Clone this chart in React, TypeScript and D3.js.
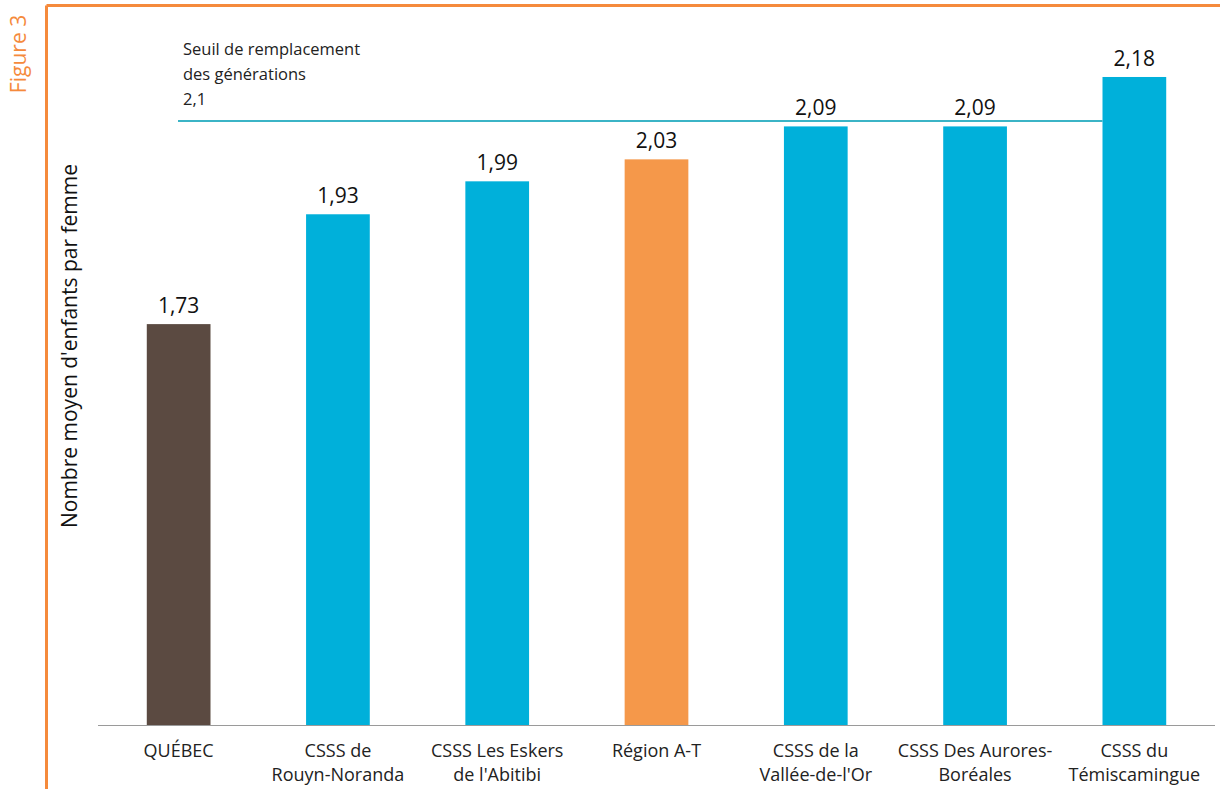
import React from "react";
import * as d3 from "d3";

const categories: string[][] = [
  ["QUÉBEC"],
  ["CSSS de", "Rouyn-Noranda"],
  ["CSSS Les Eskers", "de l'Abitibi"],
  ["Région A-T"],
  ["CSSS de la", "Vallée-de-l'Or"],
  ["CSSS Des Aurores-", "Boréales"],
  ["CSSS du", "Témiscamingue"],
];
const values: number[] = [1.73, 1.93, 1.99, 2.03, 2.09, 2.09, 2.18];
const barColors: string[] = ["#5b4a41", "#00b0da", "#00b0da", "#f5984a", "#00b0da", "#00b0da", "#00b0da"];
const threshold = 2.1;
const thresholdLabel: string[] = ["Seuil de remplacement", "des générations", "2,1"];
const yTitle = "Nombre moyen d'enfants par femme";
const figureLabel = "Figure 3";

const W = 1220;
const H = 789;
const FONT = "'Open Sans', sans-serif";

export default function App() {
  const x = d3
    .scaleBand<number>()
    .domain(d3.range(values.length))
    .range([99, 1214])
    .paddingInner(0.6)
    .paddingOuter(0.3);
  const y = d3.scaleLinear().domain([1.0, 2.2]).range([725, 66]);
  const fmt = (v: number) => d3.format(".2f")(v).replace(".", ",");
  const bw = x.bandwidth();
  const lastX = x(values.length - 1)!;

  return (
    <svg
      width={W}
      height={H}
      style={{ position: "absolute", left: 0, top: 0, background: "#fff" }}
      fontFamily={FONT}
    >
      <rect x={0} y={0} width={W} height={H} fill="#fff" />
      {/* orange frame */}
      <line x1={46.5} y1={5.5} x2={W} y2={5.5} stroke="#f58a3c" strokeWidth={3} />
      <line x1={46.5} y1={5.5} x2={46.5} y2={H} stroke="#f58a3c" strokeWidth={3} />
      <text
        transform={`translate(26, 54) rotate(-90)`}
        textAnchor="middle"
        fontSize={21}
        fill="#f58a3c"
      >
        {figureLabel}
      </text>

      {/* threshold line */}
      <line
        x1={178}
        x2={lastX}
        y1={y(threshold)}
        y2={y(threshold)}
        stroke="#3bb4c6"
        strokeWidth={2}
      />
      {thresholdLabel.map((t, i) => (
        <text key={i} x={183} y={55 + i * 25} fontSize={16.5} fill="#222">
          {t}
        </text>
      ))}

      {/* bars */}
      {values.map((v, i) => (
        <g key={i}>
          <rect x={x(i)!} y={y(v)} width={bw} height={y(1.0) - y(v)} fill={barColors[i]} />
          <text
            x={x(i)! + bw / 2}
            y={y(v) - 11}
            textAnchor="middle"
            fontSize={21}
            fill="#111"
          >
            {fmt(v)}
          </text>
        </g>
      ))}

      {/* axis line */}
      <line x1={98} x2={1215} y1={725.5} y2={725.5} stroke="#9a9a9a" strokeWidth={1} />

      {/* x labels */}
      {categories.map((lines, i) => (
        <text
          key={i}
          x={x(i)! + bw / 2}
          textAnchor="middle"
          fontSize={18}
          fill="#222"
        >
          {lines.map((l, j) => (
            <tspan key={j} x={x(i)! + bw / 2} y={757 + j * 24}>
              {l}
            </tspan>
          ))}
        </text>
      ))}

      {/* y title */}
      <text
        transform={`translate(77, 346) rotate(-90)`}
        textAnchor="middle"
        fontSize={21}
        fill="#111"
      >
        {yTitle}
      </text>
    </svg>
  );
}
